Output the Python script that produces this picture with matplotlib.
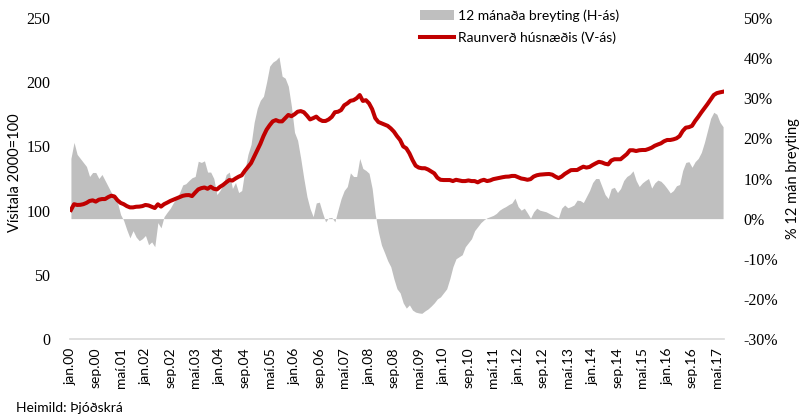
import matplotlib
matplotlib.use("Agg")
import matplotlib.pyplot as plt
from matplotlib.patches import Patch
from matplotlib.lines import Line2D

# Monthly data jan.00 - júl.17
MONTHS = ["jan", "feb", "mar", "apr", "maí", "jún", "júl", "ágú", "sep", "okt", "nóv", "des"]

# Raunverð húsnæðis, vísitala 2000=100 (left axis)
real_price = [
    100.5, 105, 104.4, 104.5, 105, 106, 107.5, 108, 107, 108.5, 109, 109,
    110.5, 111.6, 111, 108, 106, 105, 103.5, 102.5, 102.5, 103, 103.1, 103.5,
    104.4, 104, 103, 102, 104.9, 103.1, 105, 106.2, 107.5, 108.5, 109.5, 110.5,
    111.5, 112, 112.1, 111.3, 114, 116.5, 117.5, 118, 117, 118.6, 117, 116.5,
    118.5, 120, 122, 123.8, 123.4, 125, 126.4, 127.5, 131, 134, 137, 142,
    147, 152, 158, 163, 166.5, 169.5, 170.5, 169.5, 169.5, 172, 174.5, 173.5,
    175, 177, 177.5, 176.6, 174, 171, 172, 173.2, 171, 169.8, 169.8, 171,
    173, 176.6, 177, 178.3, 182, 183.5, 185.5, 186, 187.5, 190, 185.4, 186,
    183.5, 179, 172, 169, 168, 167, 166, 164, 161.5, 158, 155, 150,
    148.5, 144.6, 139.4, 135, 133.5, 133, 133, 132, 130.5, 129, 125.6, 124,
    123.8, 123.8, 123.8, 123, 124, 123.5, 123, 123, 123.5, 123, 123, 122,
    123.3, 124, 123, 123.5, 124.5, 125, 125.5, 126, 126.4, 126.5, 127, 127,
    126, 125, 124.6, 124, 124.5, 126.5, 127.5, 128, 128.2, 128.4, 128.5, 128,
    126.5, 125.3, 126.5, 128.5, 130, 131.5, 131.6, 131.6, 133, 134.2, 133.5, 134,
    135.5, 136.8, 138, 137.5, 136.5, 136, 139, 140, 140, 140, 142, 144,
    147, 147, 146.4, 147, 147.2, 147.2, 148, 149, 150.5, 151.5, 152.4, 154,
    155, 155, 155.5, 156.3, 158, 162, 164.6, 165, 166, 169.8, 173, 176.5,
    179.7, 183, 186.5, 190, 191.5, 192.1, 192.6,
]

# 12 mánaða breyting, % (right axis)
change_12m = [
    15, 19, 16, 15, 14, 13, 10.5, 11.5, 11.5, 10, 11, 9.5,
    8, 6.5, 5.5, 4, 1, -0.5, -2.8, -4.8, -3, -4.6, -5.5, -5,
    -4.2, -6.5, -5.8, -7, -1, -2.3, 0.5, 1.6, 2.6, 4, 5, 6.5,
    8.4, 8.7, 9.5, 10.2, 10.5, 14.3, 14, 14.4, 11.6, 11.6, 10, 6,
    7, 8.5, 11, 11.6, 7.5, 9, 6.5, 7, 12, 16, 18.5, 24,
    27.5, 29.5, 30.5, 34, 38, 39, 39.5, 40.3, 35.5, 35, 33, 28,
    21.5, 19.5, 15, 10, 5.5, 2.5, 0.5, 3.9, 4.1, 1.5, -0.8, 0.2,
    0.3, -0.8, 2.2, 5, 7, 8, 11.4, 10.5, 10.5, 15, 12.5, 12,
    11.3, 7.5, 1, -3.3, -6.6, -8.5, -10.5, -12, -15, -17.5, -18.5, -21,
    -22.3, -21.5, -22.8, -23.3, -23.5, -23.6, -23, -22.5, -21.8, -21, -20, -19.5,
    -18.5, -17.5, -15, -12, -10, -9.5, -9, -7, -6, -5, -3, -2,
    -1, -0.3, 0.2, 0.5, 0.8, 1.3, 2.1, 2.6, 3, 3.5, 3.9, 5.1,
    3, 2.1, 2.6, 1.4, 0.1, 1.7, 2.6, 2.1, 1.9, 1.7, 1.3, 0.9,
    0.5, 0.2, 2.6, 3.4, 2.7, 3, 3.4, 4.6, 4.5, 4, 5.5, 7,
    9, 10, 10, 8, 6, 5, 7.5, 7.8, 6.5, 7.5, 9.5, 10.5,
    11, 11.9, 9.5, 8, 8.9, 9.5, 10, 7.6, 8.9, 9.6, 9.3, 8.5,
    7.5, 6.4, 7, 8.2, 8.5, 12, 14, 14.2, 12.8, 14.2, 15, 16.5,
    19, 22, 25, 26.5, 26, 24, 22.9,
]

months_idx = list(range(len(real_price)))
tick_pos = months_idx[::8]
tick_labels = [f"{MONTHS[i % 12]}.{i // 12:02d}" for i in tick_pos]

SANS = ["Lato", "DejaVu Sans"]
SERIF = ["Liberation Serif", "DejaVu Serif"]
RED = "#c00000"
GREY = "#bfbfbf"

fig = plt.figure(figsize=(8.01, 4.17), dpi=100)
ax = fig.add_axes([70 / 801, 1 - 339 / 417, 654 / 801, 321 / 417])
ax2 = ax.twinx()

# grey area on right axis, red line on left axis drawn on top
ax2.fill_between(months_idx, change_12m, 0, color=GREY, linewidth=0)
ax.plot(months_idx, real_price, color=RED, linewidth=2.9, solid_joinstyle="round")
ax.set_zorder(ax2.get_zorder() + 1)
ax.patch.set_visible(False)

ax.set_xlim(-0.3, 210.3)
ax.set_ylim(0, 250)
ax2.set_ylim(-30, 50)
ax.set_yticks([0, 50, 100, 150, 200, 250])
ax2.set_yticks([-30, -20, -10, 0, 10, 20, 30, 40, 50])
ax2.set_yticklabels([f"{v}%" for v in [-30, -20, -10, 0, 10, 20, 30, 40, 50]])

ax.set_xticks(tick_pos)
ax.set_xticklabels(tick_labels, rotation=90, family=SANS, fontsize=10)

for a in (ax, ax2):
    for s in a.spines.values():
        s.set_visible(False)
    a.tick_params(length=0)
ax.spines["bottom"].set_visible(True)
ax.spines["bottom"].set_color("#d9d9d9")
ax.spines["bottom"].set_linewidth(1.2)

ax.tick_params(axis="y", pad=14, labelsize=11.5)
ax2.tick_params(axis="y", pad=14, labelsize=11.5)
ax.tick_params(axis="x", pad=6)
for lab in ax.get_yticklabels() + ax2.get_yticklabels():
    lab.set_family(SERIF)

fig.text(15 / 801, 1 - 173 / 417, "Vísitala 2000=100", rotation=90, ha="center", va="center",
         family=SANS, fontsize=10.5)
fig.text(793 / 801, 1 - 179 / 417, "% 12 mán breyting", rotation=90, ha="center", va="center",
         family=SANS, fontsize=10.5)
fig.text(16 / 801, 1 - 408 / 417, "Heimild: Þjóðskrá", ha="left", va="center",
         family=SANS, fontsize=10)

handles = [Patch(facecolor=GREY, edgecolor="none"), Line2D([0], [0], color=RED, linewidth=2.9)]
labels = ["12 mánaða breyting (H-ás)", "Raunverð húsnæðis (V-ás)"]
fig.legend(handles, labels, loc="upper left", bbox_to_anchor=(414 / 801, 1 - 4 / 417),
           frameon=False, prop={"family": SANS, "size": 10}, handlelength=2.5,
           handleheight=0.7, handletextpad=0.25, labelspacing=0.65, borderaxespad=0)

fig.savefig("out.png", dpi=100)
